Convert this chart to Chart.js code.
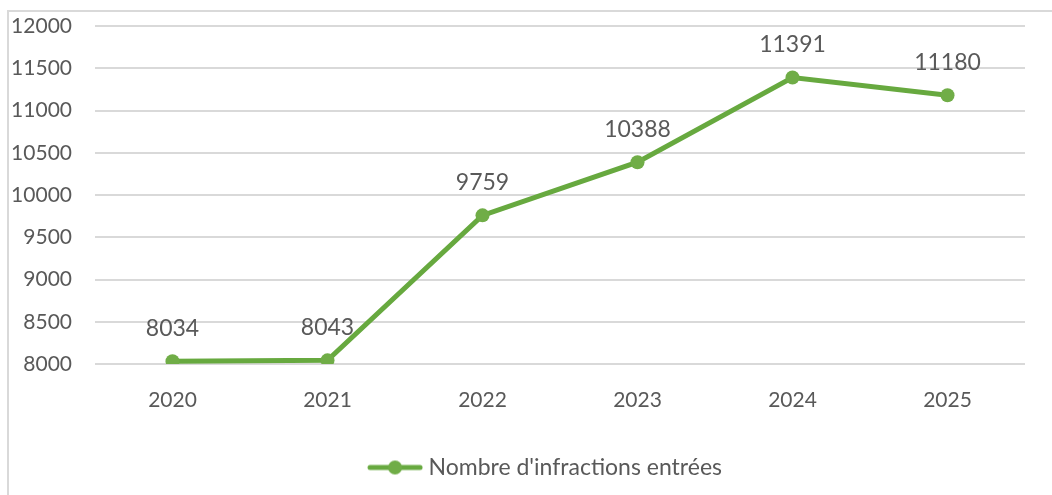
<!DOCTYPE html>
<html>
<head>
<meta charset="utf-8">
<script src="https://cdn.jsdelivr.net/npm/chart.js@4/dist/chart.umd.min.js"></script>
<style>
    html, body { margin: 0; padding: 0; background: #fff; }
    #wrap { position: relative; width: 1052px; height: 495px; }
</style>
</head>
<body>
<div id="wrap"><canvas id="infractionsChart" width="1052" height="495"></canvas></div>
<script>
// Data
const years = ['2020', '2021', '2022', '2023', '2024', '2025'];
const infractions = [8034, 8043, 9759, 10388, 11391, 11180];
const seriesLabel = "Nombre d'infractions entrées";
const yMin = 8000;
const yMax = 12000;
const yStep = 500;

const green = '#67A93F';
const textColor = '#595959';
const fontFamily = 'Lato, "Open Sans", sans-serif';

// Legend marker: a short line with a dot on it.
// Left part of the image is left blank so the legend sits a bit right of centre.
function legendMarker() {
    const c = document.createElement('canvas');
    c.width = 126;
    c.height = 16;
    const ctx = c.getContext('2d');
    ctx.strokeStyle = green;
    ctx.lineWidth = 5;
    ctx.lineCap = 'round';
    ctx.beginPath();
    ctx.moveTo(73, 8);
    ctx.lineTo(123, 8);
    ctx.stroke();
    ctx.fillStyle = '#70AD47';
    ctx.beginPath();
    ctx.arc(98, 8, 7, 0, Math.PI * 2);
    ctx.fill();
    return c;
}

// Values written above each point
const valueLabels = {
    id: 'valueLabels',
    afterDatasetsDraw(chart) {
        const ctx = chart.ctx;
        const meta = chart.getDatasetMeta(0);
        ctx.save();
        ctx.font = '23px ' + fontFamily;
        ctx.fillStyle = textColor;
        ctx.textAlign = 'center';
        ctx.textBaseline = 'middle';
        meta.data.forEach((pt, i) => {
            ctx.fillText(String(chart.data.datasets[0].data[i]), pt.x, pt.y - 33);
        });
        ctx.restore();
    }
};

// Light frame round the chart
const chartFrame = {
    id: 'chartFrame',
    beforeDraw(chart) {
        const ctx = chart.ctx;
        ctx.save();
        ctx.strokeStyle = '#D9D9D9';
        ctx.lineWidth = 2;
        ctx.beginPath();
        ctx.moveTo(8, chart.height);
        ctx.lineTo(8, 11);
        ctx.lineTo(chart.width, 11);
        ctx.stroke();
        ctx.restore();
    }
};

new Chart(document.getElementById('infractionsChart'), {
    type: 'line',
    data: {
        labels: years,
        datasets: [{
            label: seriesLabel,
            data: infractions,
            borderColor: green,
            backgroundColor: '#70AD47',
            borderWidth: 5,
            pointRadius: 7,
            pointHoverRadius: 7,
            pointBackgroundColor: '#70AD47',
            pointBorderWidth: 0,
            tension: 0
        }]
    },
    options: {
        responsive: false,
        animation: false,
        layout: {
            padding: { top: 26, right: 27, bottom: 6, left: 0 }
        },
        scales: {
            x: {
                offset: true,
                grid: { display: false },
                border: { display: false },
                ticks: {
                    color: textColor,
                    font: { family: fontFamily, size: 21 },
                    padding: 16
                },
                afterFit(scale) { scale.height = 72; }
            },
            y: {
                min: yMin,
                max: yMax,
                grid: { color: '#D9D9D9', lineWidth: 2, drawTicks: false },
                border: { display: false },
                ticks: {
                    stepSize: yStep,
                    color: textColor,
                    font: { family: fontFamily, size: 21 },
                    padding: 23,
                    callback: value => String(value)
                },
                afterFit(scale) {
                    scale.width = 95;
                    // tick padding would otherwise push the plot down
                    scale.paddingTop = 0;
                    scale.paddingBottom = 0;
                }
            }
        },
        plugins: {
            tooltip: { enabled: false },
            legend: {
                position: 'bottom',
                labels: {
                    color: textColor,
                    font: { family: fontFamily, size: 23 },
                    usePointStyle: true,
                    pointStyleWidth: 114,
                    padding: 20,
                    generateLabels(chart) {
                        return [{
                            text: seriesLabel,
                            pointStyle: legendMarker(),
                            fontColor: textColor,
                            datasetIndex: 0
                        }];
                    }
                }
            }
        }
    },
    plugins: [valueLabels, chartFrame]
});
</script>
</body>
</html>
